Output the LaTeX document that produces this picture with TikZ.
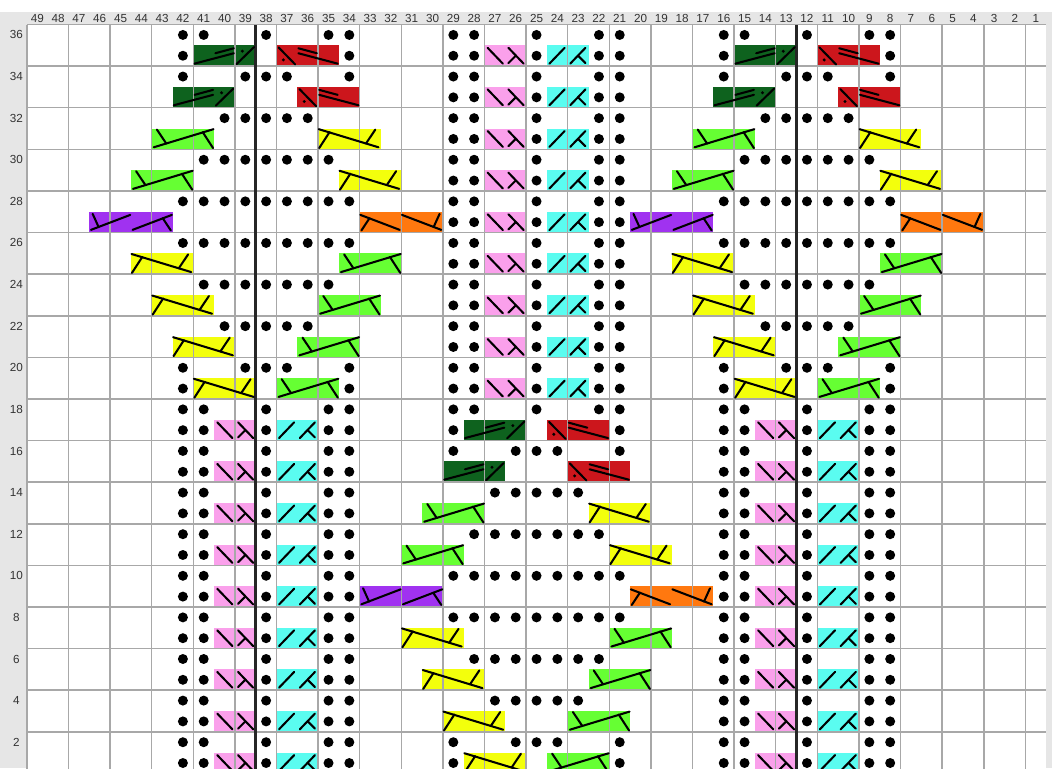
\documentclass[tikz,border=0pt]{standalone}
\usepackage{fontspec}
\setmainfont{Liberation Sans}
\usepackage{tikz}
\definecolor{chgray}{RGB}{230,230,230}
\definecolor{chline}{RGB}{168,168,168}
\definecolor{cdg}{RGB}{14,98,30}
\definecolor{crd}{RGB}{204,22,28}
\definecolor{clg}{RGB}{102,255,51}
\definecolor{cye}{RGB}{243,255,12}
\definecolor{cpu}{RGB}{160,50,240}
\definecolor{cor}{RGB}{255,120,15}
\definecolor{cpk}{RGB}{250,160,235}
\definecolor{ccy}{RGB}{90,252,240}

% cable symbols, origin at lower left of the group
\newcommand{\symdg}{%
  \draw[sym] (0.06,0.12) -- (1.95,0.62);
  \draw[sym] (1.06,0.62) -- (1.95,0.86);
  \draw[sym] (2.08,0.1) -- (2.92,0.92);
  \fill (2.36,0.72) circle (0.08);}
\newcommand{\symrd}{%
  \draw[sym] (0.1,0.9) -- (0.9,0.08);
  \fill (0.33,0.3) circle (0.08);
  \draw[sym] (1.05,0.86) -- (1.94,0.62);
  \draw[sym] (1.05,0.62) -- (2.94,0.12);}
\newcommand{\symlg}{%
  \draw[sym] (0.1,0.1) -- (2.97,0.97);
  \draw[sym] (0.25,0.95) -- (0.7,0.28);
  \draw[sym] (2.45,0.83) -- (2.95,0.06);}
\newcommand{\symye}{%
  \draw[sym] (0.03,0.97) -- (2.9,0.1);
  \draw[sym] (0.05,0.06) -- (0.55,0.83);
  \draw[sym] (2.3,0.28) -- (2.75,0.95);}
\newcommand{\sympu}{%
  \draw[sym] (0.08,0.13) -- (1.97,0.85);
  \draw[sym] (2.08,0.13) -- (3.97,0.85);
  \draw[sym] (0.16,0.9) -- (0.45,0.26);
  \draw[sym] (3.53,0.69) -- (3.92,0.1);}
\newcommand{\symor}{%
  \draw[sym] (0.03,0.85) -- (1.92,0.13);
  \draw[sym] (2.03,0.85) -- (3.92,0.13);
  \draw[sym] (0.08,0.1) -- (0.47,0.69);
  \draw[sym] (3.55,0.26) -- (3.84,0.9);}
\newcommand{\sympk}{%
  \draw[sym] (0.15,0.88) -- (0.88,0.12);
  \draw[sym] (1.15,0.88) -- (1.88,0.12);
  \draw[sym] (1.5,0.5) -- (1.15,0.15);}
\newcommand{\symcy}{%
  \draw[sym] (0.12,0.12) -- (0.85,0.88);
  \draw[sym] (1.12,0.12) -- (1.85,0.88);
  \draw[sym] (1.5,0.5) -- (1.85,0.15);}

% kind/column/row/width
\def\cabL{dg/41/35/3, rd/37/35/3, dg/42/33/3, rd/36/33/3, lg/43/31/3, ye/35/31/3,
  lg/44/29/3, ye/34/29/3, pu/46/27/4, or/33/27/4, ye/44/25/3, lg/34/25/3,
  ye/43/23/3, lg/35/23/3, ye/42/21/3, lg/36/21/3, ye/41/19/3, lg/37/19/3}
\def\cabM{dg/28/17/3, rd/24/17/3, dg/29/15/3, rd/23/15/3, lg/30/13/3, ye/22/13/3,
  lg/31/11/3, ye/21/11/3, pu/33/9/4, or/20/9/4, ye/31/7/3, lg/21/7/3,
  ye/30/5/3, lg/22/5/3, ye/29/3/3, lg/23/3/3, ye/28/1/3, lg/24/1/3}
\def\pairL{pk/40/1, cy/37/1, pk/40/3, cy/37/3, pk/40/5, cy/37/5, pk/40/7, cy/37/7,
  pk/40/9, cy/37/9, pk/40/11, cy/37/11, pk/40/13, cy/37/13, pk/40/15, cy/37/15,
  pk/40/17, cy/37/17}
\def\pairM{pk/27/19, cy/24/19, pk/27/21, cy/24/21, pk/27/23, cy/24/23, pk/27/25, cy/24/25,
  pk/27/27, cy/24/27, pk/27/29, cy/24/29, pk/27/31, cy/24/31, pk/27/33, cy/24/33,
  pk/27/35, cy/24/35}

\begin{document}
\begin{tikzpicture}[x=5mm,y=5mm,
    gridline/.style={draw=chline, line width=1pt},
    sepline/.style={draw=black!85, line width=2pt},
    sym/.style={line width=1.4pt, line cap=round},
    purl/.style={fill=black},
    lbl/.style={font=\fontsize{8}{9}\selectfont, text=black!80, inner sep=0pt}]
  \clip (-1.293,0.26) rectangle (49.28,37.18);
  \fill[chgray] (-1.293,0.26) rectangle (0,36.6);
  \fill[chgray] (0,36) rectangle (49.28,36.6);
  \fill[chgray] (49,0.26) rectangle (49.28,36);

  % coloured cells
  \foreach \s in {0,26}{
    \foreach \k/\c/\r/\w in \cabL
      \fill[c\k] (49-\c+\s,\r-1) rectangle ++(\w,1);
    \foreach \k/\c/\r in \pairL
      \fill[c\k] (49-\c+\s,\r-1) rectangle ++(2,1);
  }
  \foreach \k/\c/\r/\w in \cabM
    \fill[c\k] (49-\c,\r-1) rectangle ++(\w,1);
  \foreach \k/\c/\r in \pairM
    \fill[c\k] (49-\c,\r-1) rectangle ++(2,1);

  % grid
  \draw[gridline] (0,0) grid (49,36);
  \draw[sepline] (11,0) -- (11,36);
  \draw[sepline] (37,0) -- (37,36);

  % cable symbols
  \foreach \s in {0,26}{
    \foreach \k/\c/\r/\w in \cabL {
      \begin{scope}[shift={(49-\c+\s,\r-1)}] \csname sym\k\endcsname \end{scope}
    }
    \foreach \k/\c/\r in \pairL {
      \begin{scope}[shift={(49-\c+\s,\r-1)}] \csname sym\k\endcsname \end{scope}
    }
  }
  \foreach \k/\c/\r/\w in \cabM {
    \begin{scope}[shift={(49-\c,\r-1)}] \csname sym\k\endcsname \end{scope}
  }
  \foreach \k/\c/\r in \pairM {
    \begin{scope}[shift={(49-\c,\r-1)}] \csname sym\k\endcsname \end{scope}
  }

  % purl dots
  \foreach \s in {0,26}{
    \foreach \r/\cl in {36/{34,35,38,41,42}, 35/{34,42}, 34/{34,37,38,39,42},
        32/{36,...,40}, 30/{35,...,41}, 28/{34,...,42}, 26/{34,...,42},
        24/{35,...,41}, 22/{36,...,40}, 20/{34,37,38,39,42}, 19/{34,42}}
      \foreach \c in \cl
        \fill[purl] (49.5-\c+\s,\r-0.5) circle (0.24);
    \foreach \r in {1,...,18}
      \foreach \c in {34,35,38,41,42}
        \fill[purl] (49.5-\c+\s,\r-0.5) circle (0.24);
  }
  \foreach \r in {18,...,36}
    \foreach \c in {21,22,25,28,29}
      \fill[purl] (49.5-\c,\r-0.5) circle (0.24);
  \foreach \r/\cl in {17/{21,29}, 16/{21,24,25,26,29}, 14/{23,...,27},
      12/{22,...,28}, 10/{21,...,29}, 8/{21,...,29}, 6/{22,...,28},
      4/{23,...,27}, 2/{21,24,25,26,29}, 1/{21,29}}
    \foreach \c in \cl
      \fill[purl] (49.5-\c,\r-0.5) circle (0.24);

  % numbering
  \foreach \c in {1,...,49}
    \node[lbl] (col\c) at (49.5-\c,36.3) {\c};
  \foreach \r in {2,4,...,36}
    \node[lbl] (row\r) at (-0.5,\r-0.5) {\r};
\end{tikzpicture}
\end{document}
